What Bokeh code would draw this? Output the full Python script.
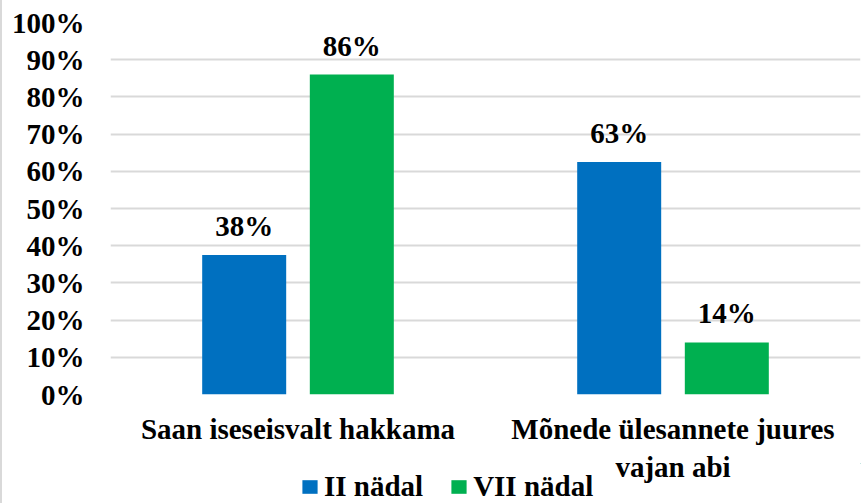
from bokeh.plotting import figure
from bokeh.layouts import column
from bokeh.models import FactorRange, Range1d, FixedTicker, PrintfTickFormatter, Legend, LegendItem, ColumnDataSource
from bokeh.transform import dodge
from bokeh.core.properties import value
from bokeh.embed import file_html
from bokeh.resources import INLINE

categories = ["Saan iseseisvalt hakkama", "Mõnede ülesannete juures\nvajan abi"]
series_names = ["II nädal", "VII nädal"]
week2_values = [37.5, 62.5]
week7_values = [86.0, 14.0]
week2_labels = ["38%", "63%"]
week7_labels = ["86%", "14%"]
y_ticks = [0, 10, 20, 30, 40, 50, 60, 70, 80, 90, 100]

BLUE = "#0070C0"
GREEN = "#00B050"
FONT = "Liberation Serif"
FS = "29px"

src = ColumnDataSource(dict(cat=categories, w2=week2_values, w7=week7_values,
                            l2=week2_labels, l7=week7_labels))

p = figure(x_range=FactorRange(*categories, range_padding=0), y_range=Range1d(0, 100),
           width=862, height=503, output_backend="svg", toolbar_location=None,
           min_border_left=110, min_border_right=2, min_border_top=22, min_border_bottom=109)
p.styles = {"box-shadow": "inset 2px 0 0 #d9d9d9"}
p.outline_line_color = None
p.background_fill_alpha = 0
p.border_fill_alpha = 0

off = 0.1435
bw = 0.224
r1 = p.vbar(x=dodge("cat", -off, range=p.x_range), top="w2", width=bw, source=src,
            fill_color=BLUE, line_color=None)
r2 = p.vbar(x=dodge("cat", off, range=p.x_range), top="w7", width=bw, source=src,
            fill_color=GREEN, line_color=None)

for col, lab, o in (("w2", "l2", -off), ("w7", "l7", off)):
    p.text(x=dodge("cat", o, range=p.x_range), y=col, text=lab, source=src,
           text_font=value(FONT), text_font_style="bold", text_font_size=FS,
           text_align="center", text_baseline="alphabetic", y_offset=-29, text_color="black")

p.yaxis.ticker = FixedTicker(ticks=y_ticks)
p.yaxis.formatter = PrintfTickFormatter(format="%d%%")
for ax in (p.xaxis, p.yaxis):
    ax.axis_line_color = None
    ax.major_tick_line_color = None
    ax.minor_tick_line_color = None
    ax.major_label_text_font = FONT
    ax.major_label_text_font_style = "bold"
    ax.major_label_text_font_size = FS
    ax.major_label_text_color = "black"
p.yaxis.major_label_standoff = 20
p.xaxis.major_label_standoff = 12

p.xgrid.grid_line_color = None
p.ygrid.grid_line_color = "#d9d9d9"
p.ygrid.grid_line_width = 2

# legend strip overlaid on the bottom of the chart
lg = figure(width=862, height=40, output_backend="svg", toolbar_location=None,
            x_axis_type=None, y_axis_type=None, min_border=0,
            x_range=Range1d(-3, -2), y_range=Range1d(-3, -2))
lg.styles = {"margin-top": "-40px"}
lg.outline_line_color = None
lg.background_fill_alpha = 0
lg.border_fill_alpha = 0
lg.grid.grid_line_color = None
# proxy renderers for the legend swatches (their data lie outside this strip's ranges)
d1 = lg.vbar(x="w2", top="w2", width=0.1, source=src, fill_color=BLUE, line_color=None)
d2 = lg.vbar(x="w7", top="w7", width=0.1, source=src, fill_color=GREEN, line_color=None)
legend = Legend(items=[LegendItem(label=series_names[0], renderers=[d1]),
                       LegendItem(label=series_names[1], renderers=[d2])],
                orientation="horizontal", location=(190, 0),
                label_text_font=FONT, label_text_font_style="bold", label_text_font_size=FS,
                label_text_color="black",
                glyph_width=19, glyph_height=17, label_standoff=5, spacing=26,
                label_height=14, padding=0, margin=0, border_line_color=None,
                background_fill_alpha=0)
lg.add_layout(legend, "center")

open("out.html", "w").write(file_html(column(p, lg, spacing=0), INLINE))
